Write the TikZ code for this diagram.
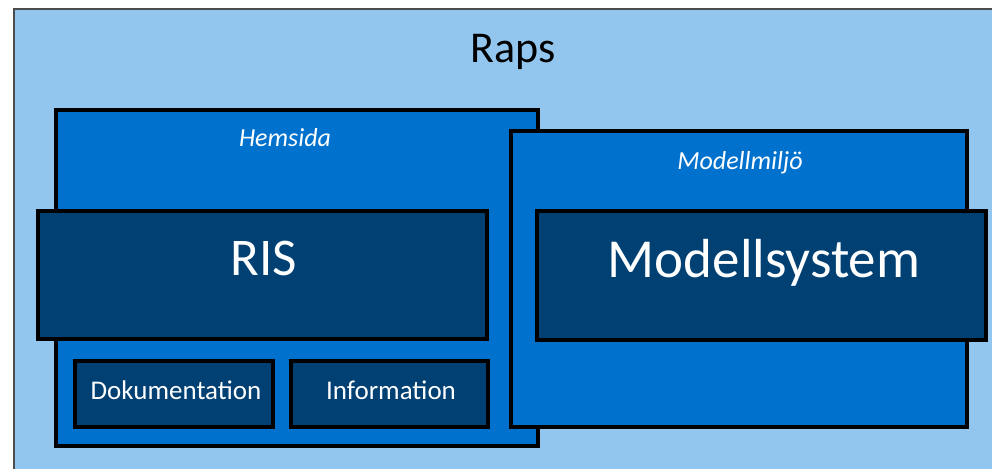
\documentclass[tikz,border=0pt]{standalone}
\usepackage{fontspec}
\setmainfont{Carlito}
\usetikzlibrary{positioning}

\definecolor{rapsblue}{RGB}{146,198,238}
\definecolor{midblue}{RGB}{0,114,206}
\definecolor{navyblue}{RGB}{0,64,115}

\tikzset{
  panel/.style={draw=black, line width=4.2pt, fill=midblue, inner sep=0pt, outer sep=0pt, anchor=north west},
  module/.style={panel, fill=navyblue},
  lbl/.style={text=white, anchor=base, inner sep=0pt}
}

\begin{document}
\begin{tikzpicture}[x=1pt, y=-1pt]
	\useasboundingbox (0,0) rectangle (992,468);
	\clip (0,0) rectangle (992,468);
	\draw[color=black!70, line width=2pt, fill=rapsblue] (14,9) rectangle (1010,480);
	\node[anchor=base, font=\fontsize{44}{50}\selectfont] (raps) at (513,63) {Raps};
	% Hemsida and Modellmiljo
	\node[panel, minimum width=482pt, minimum height=336pt] (hemsida) at (56,110) {};
	\node[lbl, font=\fontsize{26}{30}\selectfont\itshape] (hemsidatxt) at (285,146) {Hemsida};
	\node[panel, minimum width=456pt, minimum height=296pt] (miljo) at (511,131) {};
	\node[lbl, font=\fontsize{26}{30}\selectfont\itshape] (miljotxt) at (740,169) {Modellmiljö};
	% modules
	\node[module, minimum width=449pt, minimum height=128pt] (ris) at (38,211) {};
	\node[lbl, font=\fontsize{53}{60}\selectfont] (ristxt) at (264,275) {RIS};
	\node[module, minimum width=449pt, minimum height=129pt] (system) at (537,211) {};
	\node[lbl, font=\fontsize{55}{62}\selectfont] (systemtxt) at (764,277) {Modellsystem};
	\node[module, minimum width=198pt, minimum height=66pt] (dok) at (75,361) {};
	\node[lbl, font=\fontsize{27}{31}\selectfont] (doktxt) at (176,399) {Dokumentation};
	\node[module, minimum width=197pt, minimum height=66pt] (info) at (291,361) {};
	\node[lbl, font=\fontsize{27}{31}\selectfont] (infotxt) at (391,399) {Information};
\end{tikzpicture}
\end{document}
